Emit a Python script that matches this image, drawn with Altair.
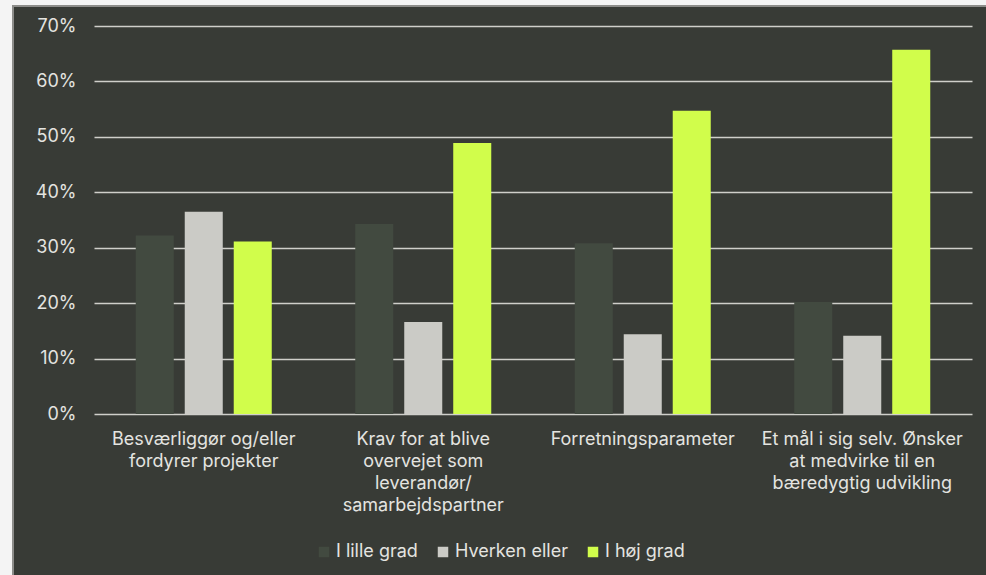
import altair as alt
import pandas as pd

categories = [
    "Besværliggør og/eller|fordyrer projekter",
    "Krav for at blive|overvejet som|leverandør/|samarbejdspartner",
    "Forretningsparameter",
    "Et mål i sig selv. Ønsker|at medvirke til en|bæredygtig udvikling",
]
series = ["I lille grad", "Hverken eller", "I høj grad"]
lille = [0.322, 0.343, 0.308, 0.202]
hverken = [0.365, 0.166, 0.144, 0.141]
hoej = [0.311, 0.489, 0.547, 0.657]
colors = ["#424a40", "#cbcbc6", "#d1fd4b"]

rows = []
for i, c in enumerate(categories):
    for s, vals in zip(series, [lille, hverken, hoej]):
        rows.append({"cat": c, "serie": s, "val": vals[i]})
df = pd.DataFrame(rows)

W, H = 878, 388
PL, PT = 94, 26
FONT = "Inter"
TXT = "#e4e4e0"
LIGHT = "#f4f4f4"
FS = 18
one = pd.DataFrame({"a": [0]})

top_strip = alt.Chart(one).mark_rect(color=LIGHT, clip=False).encode(
    x=alt.value(-PL), x2=alt.value(986 - PL), y=alt.value(-PT), y2=alt.value(5 - PT))
left_strip = alt.Chart(one).mark_rect(color=LIGHT, clip=False).encode(
    x=alt.value(-PL), x2=alt.value(12 - PL), y=alt.value(-PT), y2=alt.value(575 - PT))
border = alt.Chart(one).mark_rect(fillOpacity=0, stroke="#8d8d8a", strokeWidth=2, clip=False).encode(
    x=alt.value(13 - PL), x2=alt.value(986 - PL + 5),
    y=alt.value(6 - PT), y2=alt.value(575 - PT + 5))

bars = alt.Chart(df).mark_bar().encode(
    x=alt.X("cat:N", sort=categories, title=None,
            scale=alt.Scale(paddingInner=0, paddingOuter=0),
            axis=alt.Axis(labelAngle=0, labelExpr="split(datum.label, '|')",
                          labelFont=FONT, labelFontSize=FS, labelColor=TXT,
                          labelLineHeight=22, labelPadding=16, ticks=False,
                          domain=False, grid=False, labelLimit=300)),
    xOffset=alt.XOffset("serie:N", sort=series,
                        scale=alt.Scale(paddingInner=0.224, paddingOuter=0.852)),
    y=alt.Y("val:Q", title=None,
            scale=alt.Scale(domain=[0, 0.7], nice=False),
            axis=alt.Axis(format=".0%", values=[0, .1, .2, .3, .4, .5, .6, .7],
                          labelFont=FONT, labelFontSize=FS, labelColor=TXT,
                          labelPadding=18, ticks=False, domain=False,
                          gridColor="#cfcfca", gridWidth=1.5)),
    color=alt.Color("serie:N", sort=series,
                    scale=alt.Scale(domain=series, range=colors),
                    legend=alt.Legend(title=None, orient="none", direction="horizontal",
                                      legendX=221, legendY=517,
                                      symbolType="square", symbolSize=110,
                                      symbolStrokeWidth=0, labelOffset=3,
                                      columnPadding=16,
                                      labelFont=FONT, labelFontSize=FS,
                                      labelColor=TXT)),
)

chart = alt.layer(bars, top_strip, left_strip, border).properties(
    width=W, height=H,
    autosize=alt.AutoSizeParams(type="none"),
    padding={"left": PL, "top": PT, "right": 986 - PL - W, "bottom": 575 - PT - H},
    background="#383b36",
).configure_view(stroke=None)

chart.save("out.html", embed_options={"renderer": "svg", "actions": False})
